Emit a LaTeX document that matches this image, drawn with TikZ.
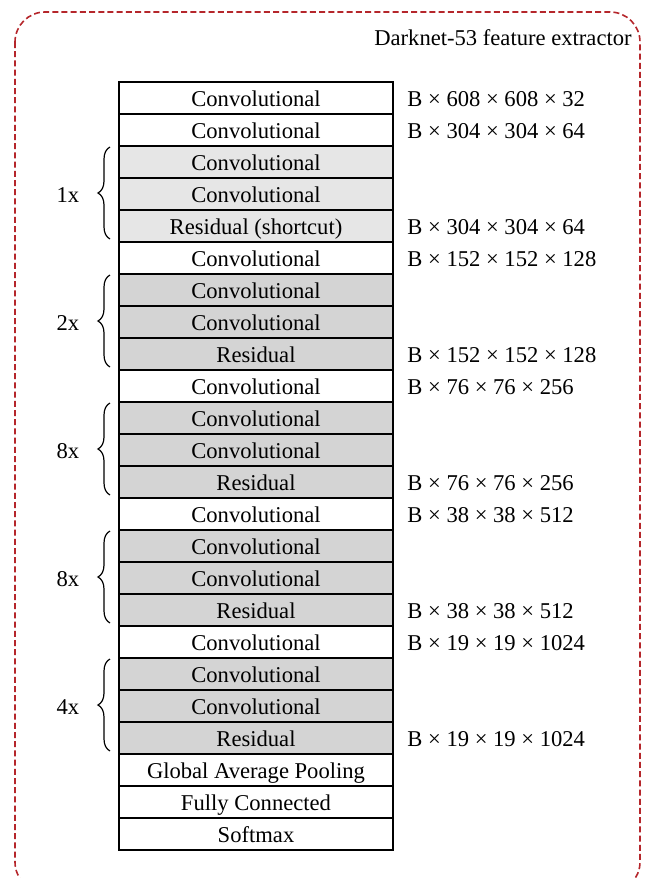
\documentclass[tikz,border=0pt]{standalone}
\usepackage{fontspec}
\setmainfont{Liberation Serif}
\usetikzlibrary{decorations.pathreplacing,positioning}
\definecolor{lightgrey}{HTML}{E6E6E6}
\definecolor{midgrey}{HTML}{D4D4D4}
\definecolor{frame}{HTML}{B5262B}

\begin{document}
\begin{tikzpicture}[x=0.5pt,y=-0.5pt,
    txt/.style={font=\fontsize{11.3}{13}\selectfont, inner sep=0pt, text height=8pt, text depth=0pt},
    layer/.style={txt, draw, line width=0.8pt, outer sep=0pt, minimum width=137pt, minimum height=16pt, anchor=north west},
    dimlabel/.style={txt, anchor=west},
    repbrace/.style={decorate, decoration={brace, amplitude=6pt}, line width=0.6pt}]
    \useasboundingbox (0,0) rectangle (644,878);
    \draw[frame, line width=0.8pt, dash pattern=on 3pt off 1.6pt, rounded corners=15pt](15,12) rectangle (640,892);
    \node[txt, anchor=base east] (title) at (632,45) {Darknet-53 feature extractor};

    % layer stack
    \foreach \lbl/\col [count=\i] in {Convolutional/white, Convolutional/white,
        Convolutional/lightgrey, Convolutional/lightgrey, Residual (shortcut)/lightgrey,
        Convolutional/white, Convolutional/midgrey, Convolutional/midgrey, Residual/midgrey,
        Convolutional/white, Convolutional/midgrey, Convolutional/midgrey, Residual/midgrey,
        Convolutional/white, Convolutional/midgrey, Convolutional/midgrey, Residual/midgrey,
        Convolutional/white, Convolutional/midgrey, Convolutional/midgrey, Residual/midgrey,
        Global Average Pooling/white, Fully Connected/white, Softmax/white}
        \node[layer, fill=\col] (r\i) at (119,{82+32*(\i-1)}) {\lbl};

    % output sizes
    \foreach \i/\sz in {1/608 × 608 × 32, 2/304 × 304 × 64, 5/304 × 304 × 64,
        6/152 × 152 × 128, 9/152 × 152 × 128, 10/76 × 76 × 256, 13/76 × 76 × 256,
        14/38 × 38 × 512, 17/38 × 38 × 512, 18/19 × 19 × 1024, 21/19 × 19 × 1024}
        \node[dimlabel, right=7pt of r\i.east] (d\i) {B × \sz};

    % repeated blocks
    \foreach \a/\m/\b/\rep in {3/4/5/1x, 7/8/9/2x, 11/12/13/8x, 15/16/17/8x, 19/20/21/4x}{
        \draw[repbrace]([shift={(-9,-3)}]r\b.south west)--([shift={(-9,1)}]r\a.north west);
        \node[txt] (g\a) at ([shift={(-51,0)}]r\m.west) {\rep};
    }
\end{tikzpicture}
\end{document}
